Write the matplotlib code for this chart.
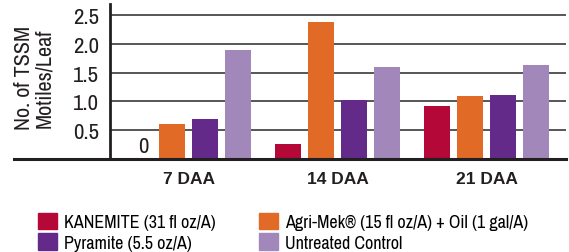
import matplotlib
matplotlib.use("Agg")
import matplotlib.pyplot as plt
import numpy as np
from matplotlib.patches import Patch
from matplotlib.lines import Line2D

groups = ["7 DAA", "14 DAA", "21 DAA"]
series = ["KANEMITE (31 fl oz/A)", "Agri-Mek\u00ae (15 fl oz/A) + Oil (1 gal/A)",
          "Pyramite (5.5 oz/A)", "Untreated Control"]
kanemite = [0.0, 0.26, 0.92]
agrimek = [0.61, 2.38, 1.09]
pyramite = [0.69, 1.02, 1.11]
untreated = [1.89, 1.60, 1.63]
yticks = [0.5, 1.0, 1.5, 2.0, 2.5]
colors = ["#B30838", "#E06A26", "#632A8A", "#A287BA"]

plt.rcParams["font.family"] = ["Archivo Narrow", "Liberation Sans", "DejaVu Sans"]
ink = "#231f20"

fig = plt.figure(figsize=(5.69, 2.53), dpi=100)
ax = fig.add_axes([110 / 569, 1 - 160 / 253, 456 / 569, 155.5 / 253])

x = np.arange(len(groups))
step = 0.2215
width = 0.175
values = [kanemite, agrimek, pyramite, untreated]
for i, (vals, c) in enumerate(zip(values, colors)):
    ax.bar(x + (i - 1.5) * step, vals, width, color=c, zorder=3)

# zero label for the missing KANEMITE bar at 7 DAA
ax.text(x[0] - 1.5 * step + 0.03, 0.06, "0", ha="center", va="bottom",
        fontsize=16.5, color=ink)

ax.set_xlim(-0.527, 2.534)
ax.set_ylim(0, 2.7)
ax.set_yticks(yticks)
ax.set_yticklabels([f"{v:.1f}" for v in yticks], fontsize=16.5, color=ink)
ax.tick_params(axis="y", length=0, pad=8)
ax.set_xticks(x)
ax.set_xticklabels(groups, fontsize=12.5, fontweight="bold",
                   family=["Liberation Sans", "DejaVu Sans"], color=ink)
ax.tick_params(axis="x", length=0, pad=9)
for v in yticks:
    ax.axhline(v, color="#3a3a3a", lw=1.2, zorder=1)

for s in ["top", "right", "bottom"]:
    ax.spines[s].set_visible(False)
ax.spines["left"].set_linewidth(2)
ax.spines["left"].set_color(ink)
# baseline reaching past the y axis
ax.add_line(Line2D([-96 / 456, 1], [0, 0], transform=ax.get_yaxis_transform(),
                   color=ink, lw=2.2, clip_on=False, zorder=4))

fig.text(34 / 569, 1 - 78 / 253, "No. of TSSM\nMotiles/Leaf", rotation=90,
         ha="center", va="center", multialignment="center", fontsize=16,
         color=ink, linespacing=1.0)

handles = [Patch(color=c) for c in colors]
order = [0, 2, 1, 3]
fig.legend([handles[i] for i in order], [series[i] for i in order],
           loc="upper left", bbox_to_anchor=(38 / 569, 1 - 213.5 / 253), ncol=2,
           frameon=False, fontsize=13, handlelength=1.05, handleheight=1.0,
           handletextpad=0.4, columnspacing=2.4, labelspacing=0.2,
           borderpad=0, borderaxespad=0)

fig.savefig("out.png", dpi=100)
